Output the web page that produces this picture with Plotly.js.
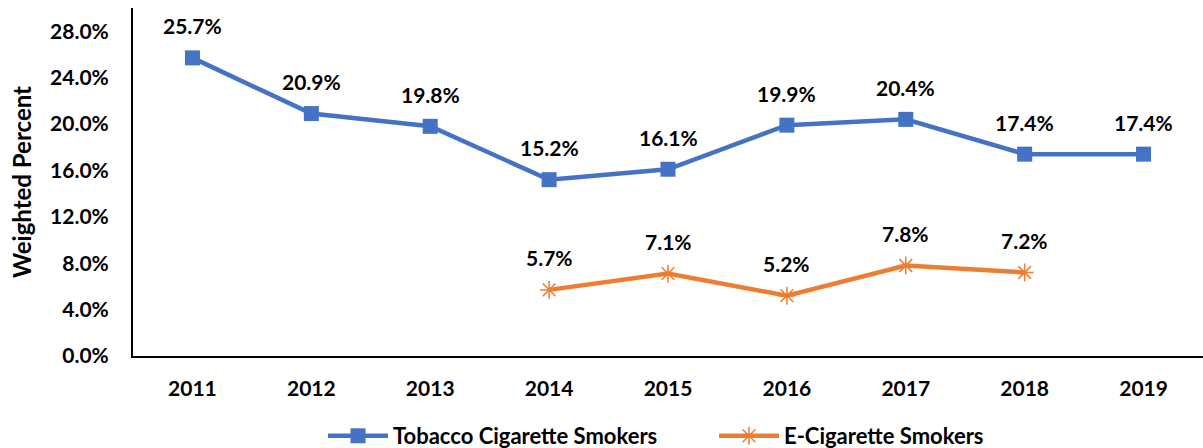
<!DOCTYPE html>
<html><head><meta charset="utf-8">
<script src="https://cdn.plot.ly/plotly-3.0.1.min.js"></script>
<style>html,body{margin:0;padding:0;background:#fff}#chart{width:1203px;height:448px}</style>
</head><body><div id="chart"></div>
<script>
const years = ['2011','2012','2013','2014','2015','2016','2017','2018','2019'];
const tobacco = [25.7, 20.9, 19.8, 15.2, 16.1, 19.9, 20.4, 17.4, 17.4];
const ecigYears = ['2014','2015','2016','2017','2018'];
const ecig = [5.7, 7.1, 5.2, 7.8, 7.2];
const yTicks = [0, 4, 8, 12, 16, 20, 24, 28];
const yTickLabels = yTicks.map(v => v.toFixed(1) + '%');

const FONT = 'Lato, "Open Sans", sans-serif';
const BLUE = '#4472C4', ORANGE = '#ED7D31';

const traces = [
  {x: years, y: tobacco, type: 'scatter', mode: 'lines+markers', name: 'Tobacco Cigarette Smokers',
   line: {color: BLUE, width: 4.5}, marker: {symbol: 'square', size: 15, color: BLUE}},
  {x: ecigYears, y: ecig, type: 'scatter', mode: 'lines+markers', name: 'E-Cigarette Smokers',
   line: {color: ORANGE, width: 4.5}, marker: {symbol: 'asterisk-open', size: 15, color: ORANGE, line: {color: ORANGE, width: 1.5}}}
];

const labelFont = {family: FONT, size: 21, color: '#000', weight: 'bold'};
const annotations = [];
years.forEach((yr, i) => annotations.push({x: years.indexOf(yr), y: tobacco[i], xref: 'x', yref: 'y', text: tobacco[i].toFixed(1) + '%', showarrow: false, yshift: 32, font: labelFont}));
ecigYears.forEach((yr, i) => annotations.push({x: years.indexOf(yr), y: ecig[i], xref: 'x', yref: 'y', text: ecig[i].toFixed(1) + '%', showarrow: false, yshift: 32, font: labelFont}));

const layout = {
  width: 1203, height: 448,
  margin: {l: 133, r: 0, t: 8, b: 92, autoexpand: false},
  paper_bgcolor: '#fff', plot_bgcolor: '#fff',
  font: {family: FONT, size: 21, color: '#000', weight: 'bold'},
  showlegend: true,
  legend: {orientation: 'h', xref: 'container', yref: 'container', x: 323 / 1203, xanchor: 'left',
           y: 12 / 448, yanchor: 'middle', itemwidth: 60,
           entrywidth: 316, entrywidthmode: 'pixels',
           font: {family: FONT, size: 22, color: '#000', weight: 'bold'}, tracegroupgap: 0},
  xaxis: {type: 'category', categoryarray: years, categoryorder: 'array', range: [-0.5, 8.5], automargin: false,
          showline: true, linecolor: '#000', linewidth: 2, showgrid: false, zeroline: false,
          ticks: '', ticklabelstandoff: 13, tickfont: {family: FONT, size: 21, weight: 'bold'}},
  yaxis: {range: [0, 30], tickvals: yTicks, ticktext: yTickLabels, automargin: false,
          showline: true, linecolor: '#000', linewidth: 2, showgrid: false, zeroline: false,
          ticks: '', ticklabelstandoff: 18, tickfont: {family: FONT, size: 21, weight: 'bold'},
          title: {text: 'Weighted Percent', standoff: 12, font: {family: FONT, size: 24, weight: 'bold'}}},
  annotations: annotations
};
Plotly.newPlot('chart', traces, layout, {displayModeBar: false, staticPlot: true});
</script></body></html>
